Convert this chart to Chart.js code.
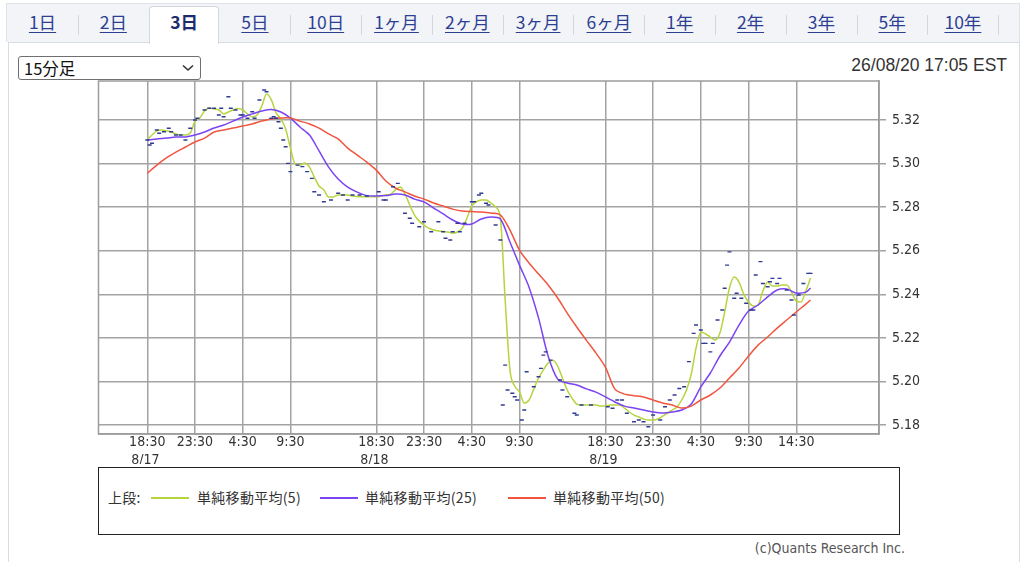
<!DOCTYPE html>
<html><head><meta charset="utf-8">
<script src="https://cdn.jsdelivr.net/npm/chart.js@4.4.1/dist/chart.umd.min.js"></script>
<style>
html,body{margin:0;padding:0;background:#fff;width:1024px;height:562px;overflow:hidden;font-family:"Liberation Sans",Arial,sans-serif;}
#tabbar{position:absolute;left:6px;top:3px;width:1014px;height:39px;background:#f2f4f8;border:1px solid #dfe3ea;border-bottom:none;box-sizing:border-box;}
.tab{position:absolute;top:3px;height:38px;width:71px;text-align:center;line-height:38px;font-size:17.5px;color:#2d3f93;text-decoration:underline;text-underline-offset:3px;font-family:"Noto Sans CJK JP","Noto Sans",sans-serif;}
.tab.active{color:#1c2b6e;font-weight:bold;text-decoration:none;}
.sep{position:absolute;top:15px;width:1px;height:20px;background:#d3d7de;}
#activebg{position:absolute;left:149px;top:6px;width:70px;height:38px;background:#fff;border:1px solid #d3d7de;border-bottom:none;border-radius:4px 4px 0 0;box-sizing:border-box;}
#panel{position:absolute;left:8px;top:42px;width:1012px;height:530px;background:#fff;border:1px solid #d8dce3;box-sizing:border-box;}
#sel{position:absolute;left:18px;top:56px;width:183px;height:24px;border:1px solid #6f6f6f;border-radius:3px;box-sizing:border-box;font-size:16.5px;line-height:22px;padding-left:5px;color:#111;font-family:"Noto Sans CJK JP",sans-serif;background:#fff;}
#sel svg{position:absolute;right:6px;top:7px;}
#date{position:absolute;right:17px;top:54px;font-size:17.5px;color:#333;line-height:22px;}
#chartwrap{position:absolute;left:0;top:0;width:1024px;height:466px;}
#legend{position:absolute;left:98px;top:467px;width:802px;height:68px;border:1.5px solid #222;box-sizing:border-box;font-family:"Noto Sans CJK JP",sans-serif;font-size:14px;color:#333;}
#legend span{position:absolute;top:20px;line-height:18px;white-space:nowrap;letter-spacing:0.3px;}
#legend i{position:absolute;top:29px;height:1.5px;}
#copy{position:absolute;right:119px;top:540px;font-size:14px;color:#555;font-family:"DejaVu Sans Condensed","Liberation Sans Narrow","DejaVu Sans",sans-serif;}
</style></head>
<body>
<div id="tabbar"></div>
<div id="panel"></div>
<div id="activebg"></div>
<div id="tabs"></div>
<div id="sel">15分足<svg width="12" height="8" viewBox="0 0 12 8"><path d="M1 1.5 L6 6 L11 1.5" stroke="#333" stroke-width="1.6" fill="none"/></svg></div>
<div id="date">26/08/20 17:05 EST</div>
<div id="chartwrap"><canvas id="c" width="1024" height="466"></canvas></div>
<div id="legend">
  <span style="left:9px">上段:</span>
  <i style="left:52px;width:38px;background:#b6d43e"></i>
  <span style="left:98px">単純移動平均(5)</span>
  <i style="left:221px;width:38px;background:#7b44f2"></i>
  <span style="left:266px">単純移動平均(25)</span>
  <i style="left:409px;width:38px;background:#f2553f"></i>
  <span style="left:454px">単純移動平均(50)</span>
</div>
<div id="copy">(c)Quants Research Inc.</div>
<script>
// ---- tabs ----
const tabLabels = ["1日","2日","3日","5日","10日","1ヶ月","2ヶ月","3ヶ月","6ヶ月","1年","2年","3年","5年","10年"];
const activeTab = 2;

// ---- axes ----
const yTickValues = [5.18, 5.20, 5.22, 5.24, 5.26, 5.28, 5.30, 5.32];
const xTickValues = [18.5, 23.5, 28.5, 33.5, 42.5, 47.5, 52.5, 57.5, 66.5, 71.5, 76.5, 81.5, 86.5];
const xTickLabels = [["18:30","8/17 "],"23:30","4:30","9:30",["18:30","8/18 "],"23:30","4:30","9:30",["18:30","8/19 "],"23:30","4:30","9:30","14:30"];
// hours counted from 8/17 0:00
const xMin = 13.39, xMax = 95.17, yMin = 5.1759, yMax = 5.3379;

// ---- MA(5), half-hourly ----
const ma5Times = [18.5,19,19.5,20,20.5,21,21.5,22,22.5,23,23.5,24,24.5,25,25.5,26,26.5,27,27.5,28,
 28.5,29,29.5,30,30.5,31,31.5,32,32.5,33,33.5,34,34.5,35,35.5,36,36.5,37,37.5,38,
 38.5,39,39.5,40,40.5,41,41.5,42,42.5,43,43.5,44,44.5,45,45.5,46,46.5,47,47.5,48,
 48.5,49,49.5,50,50.5,51,51.5,52,52.5,53,53.5,54,54.5,55,55.5,56,56.5,57,57.5,58,
 58.5,59,59.5,60,60.5,61,61.5,62,62.5,63,63.5,64,64.5,65,65.5,66,66.5,67,67.5,68,
 68.5,69,69.5,70,70.5,71,71.5,72,72.5,73,73.5,74,74.5,75,75.5,76,76.5,77,77.5,78,
 78.5,79,79.5,80,80.5,81,81.5,82,82.5,83,83.5,84,84.5,85,85.5,86,86.5,87,87.5,88];
const ma5Values = [5.3108,5.3131,5.3150,5.3154,5.3150,5.3145,5.3136,5.3131,5.3131,5.3140,5.3195,5.3209,5.3241,5.3255,5.3250,5.3246,5.3228,5.3237,5.3246,5.3253,
 5.3246,5.3228,5.3214,5.3223,5.3264,5.3319,5.3292,5.3232,5.3205,5.3159,5.3071,5.2998,5.2993,5.3003,5.2984,5.2938,5.2897,5.2879,5.2847,5.2847,
 5.2856,5.2856,5.2856,5.2851,5.2849,5.2848,5.2848,5.2848,5.2848,5.2851,5.2856,5.2860,5.2879,5.2892,5.2860,5.2810,5.2764,5.2736,5.2718,5.2704,
 5.2695,5.2691,5.2688,5.2686,5.2681,5.2686,5.2704,5.2750,5.2805,5.2825,5.2833,5.2833,5.2819,5.2801,5.2750,5.2374,5.2053,5.1979,5.1952,5.1901,
 5.1915,5.1965,5.2016,5.2053,5.2085,5.2098,5.2071,5.2016,5.1961,5.1924,5.1896,5.1892,5.1892,5.1892,5.1892,5.1887,5.1887,5.1892,5.1892,5.1892,
 5.1878,5.1860,5.1846,5.1837,5.1828,5.1823,5.1823,5.1828,5.1841,5.1855,5.1869,5.1883,5.1915,5.1961,5.2034,5.2153,5.2227,5.2218,5.2204,5.2190,
 5.2222,5.2319,5.2429,5.2479,5.2456,5.2401,5.2365,5.2346,5.2351,5.2415,5.2456,5.2438,5.2438,5.2443,5.2443,5.2410,5.2369,5.2365,5.2415,5.2475];

// ---- MA(25), MA(50), hourly ----
const maLongTimes = [18.5,19.5,20.5,21.5,22.5,23.5,24.5,25.5,26.5,27.5,28.5,29.5,30.5,31.5,32.5,33.5,34.5,35.5,36.5,37.5,
 38.5,39.5,40.5,41.5,42.5,43.5,44.5,45.5,46.5,47.5,48.5,49.5,50.5,51.5,52.5,53.5,54.5,55.5,56.5,57.5,
 58.5,59.5,60.5,61.5,62.5,63.5,64.5,65.5,66.5,67.5,68.5,69.5,70.5,71.5,72.5,73.5,74.5,75.5,76.5,77.5,
 78.5,79.5,80.5,81.5,82.5,83.5,84.5,85.5,86.5,87.5,88];
const ma25Values = [5.3108,5.3113,5.3117,5.3122,5.3122,5.3131,5.3145,5.3163,5.3177,5.3195,5.3214,5.3228,5.3241,5.3248,5.3237,5.3209,5.3168,5.3131,5.3058,5.2984,
 5.2929,5.2892,5.2869,5.2853,5.2851,5.2853,5.2860,5.2856,5.2837,5.2824,5.2796,5.2769,5.2741,5.2723,5.2723,5.2746,5.2755,5.2746,5.2640,5.2534,
 5.2433,5.2291,5.2117,5.2011,5.1993,5.1984,5.1966,5.1951,5.1929,5.1906,5.1887,5.1878,5.1869,5.1860,5.1855,5.1860,5.1869,5.1897,5.1975,5.2039,
 5.2117,5.2181,5.2259,5.2323,5.2351,5.2388,5.2420,5.2424,5.2406,5.2410,5.2429];
const ma50Values = [5.2955,5.2993,5.3026,5.3053,5.3076,5.3099,5.3117,5.3145,5.3154,5.3163,5.3172,5.3182,5.3195,5.3205,5.3209,5.3209,5.3195,5.3182,5.3163,5.3136,
 5.3113,5.3071,5.3039,5.3007,5.2970,5.2920,5.2888,5.2870,5.2851,5.2837,5.2819,5.2805,5.2791,5.2782,5.2780,5.2778,5.2773,5.2764,5.2695,5.2603,
 5.2544,5.2493,5.2443,5.2383,5.2314,5.2250,5.2190,5.2131,5.2066,5.1965,5.1942,5.1935,5.1929,5.1915,5.1901,5.1892,5.1878,5.1887,5.1915,5.1938,
 5.1970,5.2016,5.2062,5.2117,5.2167,5.2204,5.2245,5.2282,5.2319,5.2355,5.2374];

// ---- 15-minute prices (dots) ----
const priceTimes = [18.5,18.75,19,19.5,19.75,20.25,20.75,21,21.5,22,22.5,23,23.5,23.75,24.5,25,25.5,26,26.25,26.5,
 27,27.25,27.75,28.25,28.5,29,29.5,29.75,30.25,30.75,31,31.5,31.75,32,32.25,32.5,32.75,33,33.25,33.5,
 34.25,34.75,35.25,35.75,36,36.5,37,37.75,38.5,39,39.5,40,40.75,41.5,42.75,43.25,43.5,44.25,44.75,45.5,
 46,46.25,47,47.5,48.25,49,49.5,49.75,50.25,50.5,51.25,51,51.75,52.5,52.75,53.25,53.5,54,54.25,55,
 55.5,56,56.25,55.75,56.75,57,57.25,58,57.75,58.25,59,59.5,59.75,60,60.25,60.75,61.75,62,62.5,63.25,
 63.5,64,65,66.75,67.25,67.75,68.25,68.75,69.5,70,70.5,71,71.5,72.25,72.75,73.25,73.75,74.25,74.75,75.25,
 75.75,76,76.5,76.75,77,77.5,77.75,78.25,78.75,79,79.25,79.5,80,80.25,80.75,81.25,81.75,82,82.25,82.75,
 83,83.5,83.75,84,84.5,84.75,85.5,86,86.25,86.75,87.25,87.75,88];
const priceValues = [5.3108,5.3085,5.3093,5.3154,5.3139,5.3146,5.3162,5.3146,5.3131,5.3131,5.3108,5.3162,5.3200,5.3208,5.3246,5.3254,5.3254,5.3223,5.3254,5.3215,
 5.3307,5.3254,5.3246,5.3223,5.3223,5.3208,5.3238,5.3208,5.3292,5.3338,5.3330,5.3208,5.3215,5.3208,5.3192,5.3162,5.3108,5.3077,5.3001,5.2963,
 5.2993,5.2986,5.2963,5.2932,5.2871,5.2856,5.2825,5.2833,5.2864,5.2856,5.2833,5.2856,5.2856,5.2851,5.2871,5.2833,5.2833,5.2894,5.2909,5.2772,
 5.2749,5.2726,5.2710,5.2733,5.2687,5.2733,5.2687,5.2657,5.2649,5.2687,5.2687,5.2726,5.2726,5.2825,5.2825,5.2856,5.2864,5.2818,5.2810,5.2718,
 5.2649,5.2075,5.1961,5.1892,5.1946,5.1930,5.1915,5.1869,5.1823,5.2045,5.1976,5.2022,5.2060,5.2121,5.2136,5.2098,5.2007,5.1961,5.1930,5.1854,
 5.1846,5.1892,5.1892,5.1884,5.1877,5.1915,5.1915,5.1854,5.1815,5.1823,5.1815,5.1792,5.1846,5.1823,5.1884,5.1915,5.1938,5.1968,5.1976,5.2091,
 5.2221,5.2259,5.2236,5.2175,5.2175,5.2136,5.2175,5.2282,5.2328,5.2428,5.2534,5.2595,5.2382,5.2405,5.2382,5.2359,5.2328,5.2328,5.2489,5.2550,
 5.2450,5.2435,5.2458,5.2473,5.2450,5.2473,5.2420,5.2374,5.2305,5.2397,5.2450,5.2496,5.2496];

// build tabs
(function(){
  const host = document.getElementById('tabs');
  const left0 = 7, w = 70.8;
  tabLabels.forEach((t,i)=>{
    const d = document.createElement('div');
    d.className = 'tab' + (i===activeTab?' active':'');
    d.style.left = (left0 + i*w) + 'px';
    d.textContent = t;
    host.appendChild(d);
    if (i>0 && i!==activeTab && i!==activeTab+1) {
      const s = document.createElement('div');
      s.className='sep'; s.style.left = (left0 + i*w) + 'px';
      host.appendChild(s);
    }
  });
  const s = document.createElement('div');
  s.className='sep'; s.style.left = (left0 + tabLabels.length*w) + 'px';
  host.appendChild(s);
})();

const zip = (xs, ys) => xs.map((x,i)=>({x:x, y:ys[i]}));
const axisFont = {family:"'DejaVu Sans Condensed','Liberation Sans Narrow','DejaVu Sans',sans-serif", size:14, lineHeight:1.25};
const gridColor = '#a3a3a3';

const frame = {
  id:'frame',
  beforeDatasetsDraw(chart){
    const a = chart.chartArea, ctx = chart.ctx;
    ctx.save(); ctx.strokeStyle = '#9c9c9c'; ctx.lineWidth = 1.5;
    ctx.strokeRect(a.left, a.top, a.right-a.left, a.bottom-a.top);
    ctx.restore();
  }
};

new Chart(document.getElementById('c'), {
  type:'line',
  data:{ datasets:[
    {type:'scatter', label:'price', data: zip(priceTimes, priceValues), showLine:false,
     pointStyle:'line', pointRadius:2, pointBorderWidth:1.4, borderColor:'#2f3a92', backgroundColor:'#2f3a92'},
    {label:'単純移動平均(50)', data: zip(maLongTimes, ma50Values), borderColor:'#f2553f', borderWidth:1.5, pointRadius:0, tension:0.3},
    {label:'単純移動平均(25)', data: zip(maLongTimes, ma25Values), borderColor:'#7b44f2', borderWidth:1.5, pointRadius:0, tension:0.3},
    {label:'単純移動平均(5)', data: zip(ma5Times, ma5Values), borderColor:'#b6d43e', borderWidth:1.5, pointRadius:0, cubicInterpolationMode:'monotone'}
  ]},
  options:{
    responsive:false, animation:false, devicePixelRatio:1,
    layout:{padding:{left:98.5, top:81, right:85, bottom:2}},
    plugins:{legend:{display:false}, tooltip:{enabled:false}},
    scales:{
      x:{type:'linear', min:xMin, max:xMax,
         afterBuildTicks: s => { s.ticks = xTickValues.map(v=>({value:v})); },
         afterFit: s => { s.height = 30; },
         ticks:{autoSkip:false, maxRotation:0, padding:0, color:'#333', font:axisFont,
                callback:(v,i)=>xTickLabels[i]},
         grid:{color:gridColor, lineWidth:1.5, drawTicks:false},
         border:{color:'#9c9c9c', width:1.5}},
      y:{type:'linear', position:'right', min:yMin, max:yMax,
         afterBuildTicks: s => { s.ticks = yTickValues.map(v=>({value:v})); },
         afterFit: s => { s.width = 60; },
         ticks:{padding:6, color:'#333', font:axisFont, callback:v=>Number(v).toFixed(2)},
         grid:{color:gridColor, lineWidth:1.5, tickLength:7},
         border:{color:'#9c9c9c', width:1.5}}
    }
  },
  plugins:[frame]
});
</script>
</body></html>
